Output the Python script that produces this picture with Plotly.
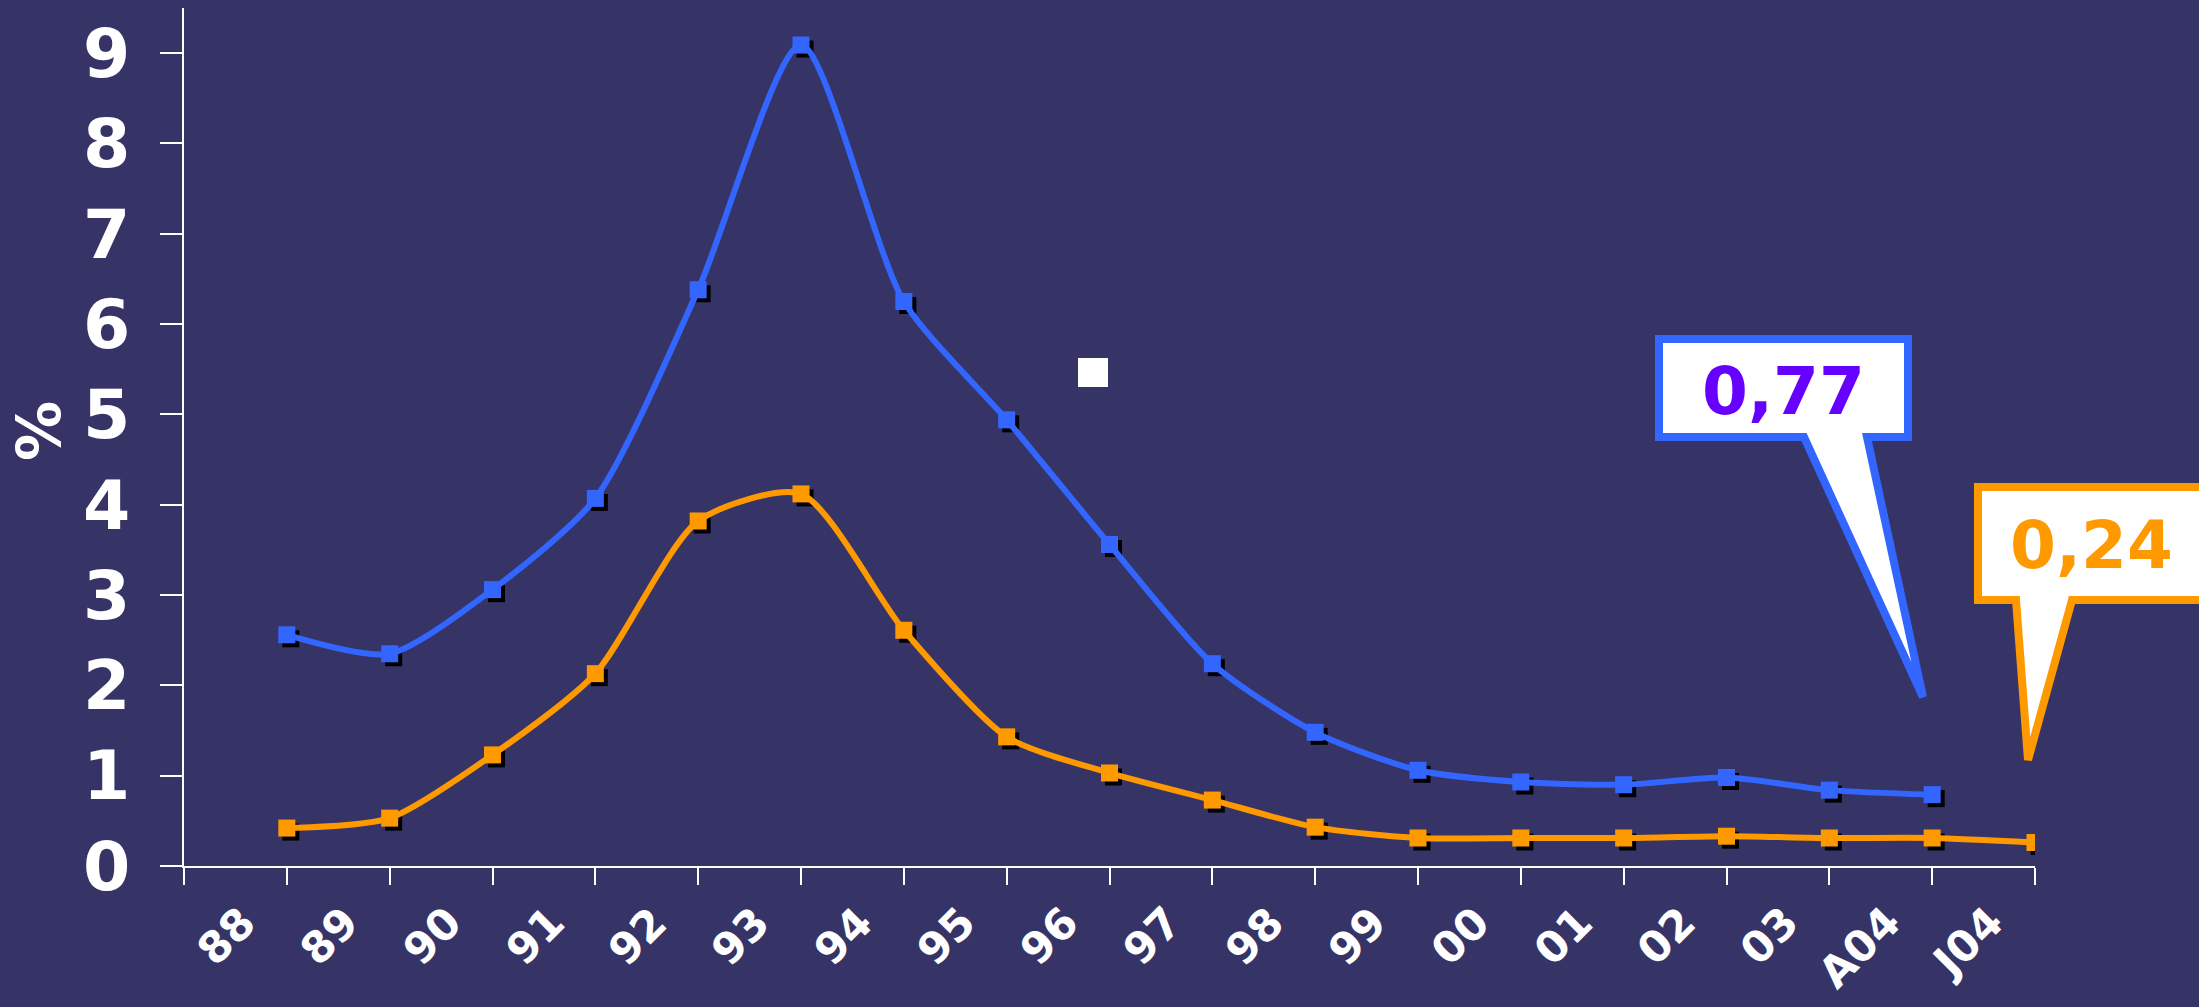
"""Line chart: two rates (%) 1988 - J04 with callouts."""

import plotly.graph_objects as go

# ━━━ DATA ━━━━━━━━━━━━━━━━━━━━━━━━━━━━━━━━━━━━━━━━━━━━━━━━━━━━━
PERIODS = ["88", "89", "90", "91", "92", "93", "94", "95", "96", "97",
           "98", "99", "00", "01", "02", "03", "A04", "J04"]
BLUE_VALUES = [2.56, 2.35, 3.06, 4.07, 6.38, 9.09, 6.25, 4.94, 3.56, 2.24,
               1.48, 1.06, 0.93, 0.90, 0.98, 0.84, 0.79]
ORANGE_VALUES = [0.42, 0.53, 1.23, 2.13, 3.82, 4.12, 2.61, 1.43, 1.03, 0.73,
                 0.43, 0.31, 0.31, 0.31, 0.33, 0.31, 0.31, 0.26]
Y_TICKS = list(range(0, 10))
BLUE_CALLOUT = "0,77"
ORANGE_CALLOUT = "0,24"

# ━━━ STYLE ━━━━━━━━━━━━━━━━━━━━━━━━━━━━━━━━━━━━━━━━━━━━━━━━━━━
BG = "#363467"
BLUE = "#3366FF"
ORANGE = "#FF9900"
PURPLE = "#6600FF"
FONT = "DejaVu Sans"

W, H = 2199, 1007
PL, PR, PT, PB = 184, 2035, 8, 866   # plot area in pixels
Y_MAX = 9.5
X_MAX = len(PERIODS)

# shadow offset in pixels -> axis units
SH_X = 4 * X_MAX / (PR - PL)
SH_Y = 4 * Y_MAX / (PB - PT)


def px(x):
    return (x - PL) / (PR - PL)


def py(y):
    return (PB - y) / (PB - PT)


def path(points):
    return "M " + " L ".join(f"{px(x):.5f},{py(y):.5f}" for x, y in points) + " Z"


xs_blue = list(range(1, len(BLUE_VALUES) + 1))
xs_orange = list(range(1, len(ORANGE_VALUES) + 1))

fig = go.Figure()

# marker shadows on an overlaid, slightly shifted axis pair (x2/y2)
for xs, ys in ((xs_blue, BLUE_VALUES), (xs_orange, ORANGE_VALUES)):
    fig.add_trace(go.Scatter(
        x=xs, y=ys, mode="markers", xaxis="x2", yaxis="y2",
        marker=dict(symbol="square", size=17, color="black", line=dict(width=0)),
        hoverinfo="skip", showlegend=False,
    ))

# actual series on x3/y3, drawn above the shadows
fig.add_trace(go.Scatter(
    x=xs_orange, y=ORANGE_VALUES, mode="lines+markers", name="orange",
    xaxis="x3", yaxis="y3",
    line=dict(color=ORANGE, width=6, shape="spline", smoothing=0.7),
    marker=dict(symbol="square", size=17, color=ORANGE, line=dict(width=0)),
    showlegend=False,
))
fig.add_trace(go.Scatter(
    x=xs_blue, y=BLUE_VALUES, mode="lines+markers", name="blue",
    xaxis="x3", yaxis="y3",
    line=dict(color=BLUE, width=6, shape="spline", smoothing=0.7),
    marker=dict(symbol="square", size=17, color=BLUE, line=dict(width=0)),
    showlegend=False,
))

# callouts
shapes = [
    dict(type="path", xref="paper", yref="paper", layer="above",
         path=path([(1659, 339), (1908, 339), (1908, 437), (1867, 437),
                    (1923, 697), (1804, 437), (1659, 437)]),
         fillcolor="white", line=dict(color=BLUE, width=8)),
    dict(type="path", xref="paper", yref="paper", layer="above",
         path=path([(1978, 487), (2215, 487), (2215, 600), (2072, 600),
                    (2028, 760), (2016, 600), (1978, 600)]),
         fillcolor="white", line=dict(color=ORANGE, width=8)),
    dict(type="rect", xref="paper", yref="paper",
         x0=px(1078), x1=px(1108), y0=py(387), y1=py(358),
         fillcolor="white", line=dict(width=0)),
]

annotations = [
    dict(text=BLUE_CALLOUT, xref="paper", yref="paper", x=px(1783), y=py(391),
         showarrow=False, xanchor="center", yanchor="middle",
         font=dict(family=FONT, size=66, color=PURPLE, weight="bold")),
    dict(text=ORANGE_CALLOUT, xref="paper", yref="paper", x=px(2091), y=py(545),
         showarrow=False, xanchor="center", yanchor="middle",
         font=dict(family=FONT, size=66, color=ORANGE, weight="bold")),
    dict(text="%", xref="paper", yref="paper", x=px(39), y=py(431),
         showarrow=False, textangle=-90, xanchor="center", yanchor="middle",
         font=dict(family=FONT, size=60, color="white", weight="bold")),
]

# rotated period labels, anchored by their top-right corner left of each tick
for i, label in enumerate(PERIODS, start=1):
    annotations.append(dict(
        text=label, xref="x", yref="paper", x=i, y=py(894),
        xshift=-19, showarrow=False, textangle=-45,
        xanchor="right", yanchor="top",
        font=dict(family=FONT, size=43, color="white", weight="bold"),
    ))

axis_line = dict(showgrid=False, zeroline=False, showline=True,
                 linecolor="white", linewidth=2,
                 ticks="outside", tickwidth=2, tickcolor="white")

fig.update_layout(
    width=W, height=H,
    paper_bgcolor=BG, plot_bgcolor=BG,
    margin=dict(l=PL, r=W - PR, t=PT, b=H - PB),
    showlegend=False,
    shapes=shapes,
    annotations=annotations,
    xaxis=dict(
        range=[0, X_MAX], tickmode="array",
        tickvals=list(range(0, X_MAX + 1)), showticklabels=False,
        ticklen=17, **axis_line,
    ),
    yaxis=dict(
        range=[0, Y_MAX], tickmode="array", tickvals=Y_TICKS,
        ticklen=22, ticklabelstandoff=16,
        tickfont=dict(family=FONT, size=68, color="white", weight="bold"),
        **axis_line,
    ),
    xaxis2=dict(range=[-SH_X, X_MAX - SH_X], overlaying="x", visible=False),
    yaxis2=dict(range=[SH_Y, Y_MAX + SH_Y], overlaying="y", visible=False),
    xaxis3=dict(range=[0, X_MAX], overlaying="x", visible=False),
    yaxis3=dict(range=[0, Y_MAX], overlaying="y", visible=False),
)

fig.write_html(
    "out.html",
    config={"displayModeBar": False},
    post_script=f"document.body.style.margin='0';document.body.style.background='{BG}';",
)
